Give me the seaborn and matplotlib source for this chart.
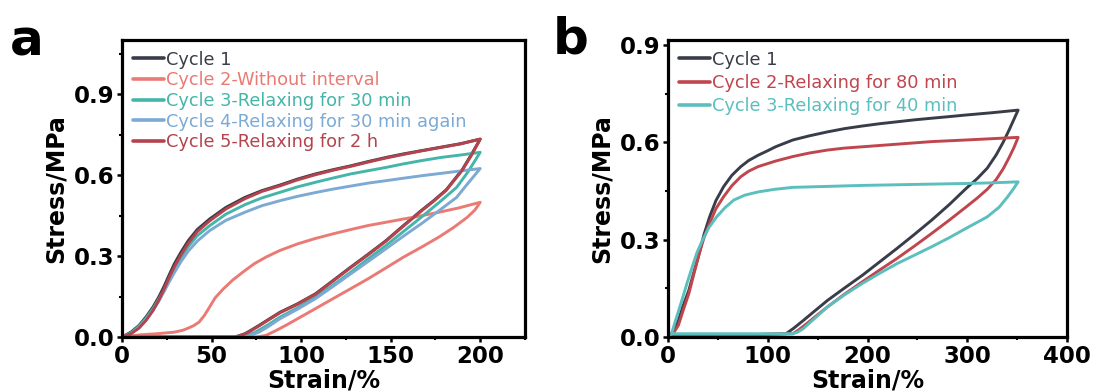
import numpy as np
import pandas as pd
import matplotlib
matplotlib.use("Agg")
import matplotlib.pyplot as plt
from matplotlib.ticker import MultipleLocator
import seaborn as sns

sns.set_theme(style="white")
plt.rcParams["font.family"] = ["DejaVu Sans"]
plt.rcParams["text.color"] = "black"
plt.rcParams["axes.labelcolor"] = "black"
plt.rcParams["xtick.color"] = "black"
plt.rcParams["ytick.color"] = "black"

# ---------------- panel a: five loading/unloading cycles to 200 % ----------------
a_labels = ["Cycle 1", "Cycle 2-Without interval", "Cycle 3-Relaxing for 30 min",
            "Cycle 4-Relaxing for 30 min again", "Cycle 5-Relaxing for 2 h"]
a_colors = ["#383d49", "#ea7a74", "#45b5aa", "#7caad5", "#b4434d"]

a1_strain = [0, 5, 9.5, 13.5, 17.3, 20.5, 23.3, 26, 29.2, 33, 37, 42, 48.9, 58, 68.6, 78, 88.3, 98,
             108, 118, 127.7, 137.5, 147.4, 157, 167, 178, 189, 200,
             195, 190, 181, 174, 167, 157, 147.4, 137.5, 127.7, 118, 108, 98, 88.3, 82, 76.5, 72,
             68.6, 65, 62.7, 30, 0]
a1_stress = [0, 0.018, 0.043, 0.075, 0.111, 0.148, 0.185, 0.225, 0.271, 0.315, 0.357, 0.398, 0.437,
             0.48, 0.517, 0.542, 0.563, 0.585, 0.604, 0.620, 0.634, 0.650, 0.665, 0.678, 0.69, 0.703,
             0.716, 0.733,
             0.675, 0.62, 0.545, 0.505, 0.468, 0.412, 0.357, 0.307, 0.259, 0.21, 0.160, 0.123, 0.092,
             0.066, 0.043, 0.025, 0.012, 0.004, 0.0, 0.0, 0.0]

a2_strain = [0, 10, 19.3, 29.2, 34, 37, 40, 43, 46, 48.9, 52, 56.7, 62, 68.6, 74, 80.4, 88, 98.1,
             108, 117.8, 127.7, 137.5, 147.4, 157.2, 167, 176.9, 188, 200,
             197, 192.7, 185, 176.9, 167, 157.2, 147.4, 137.5, 127.7, 117.8, 108, 98.1, 92, 86.3,
             80.4, 75, 40, 0]
a2_stress = [0, 0.008, 0.012, 0.018, 0.025, 0.033, 0.042, 0.055, 0.08, 0.111, 0.145, 0.179, 0.212,
             0.246, 0.272, 0.296, 0.32, 0.345, 0.365, 0.382, 0.398, 0.413, 0.425, 0.437, 0.449, 0.462,
             0.478, 0.499,
             0.47, 0.443, 0.405, 0.37, 0.332, 0.296, 0.256, 0.216, 0.179, 0.142, 0.105, 0.068, 0.045,
             0.025, 0.006, 0.0, 0.0, 0.0]

a3_strain = [0, 5, 9.5, 13.5, 17.3, 20.5, 23.3, 26, 29.2, 33, 37, 42, 48.9, 58, 68.6, 78, 88.3, 98,
             108, 118, 127.7, 137.5, 147.4, 157, 167, 178, 189, 200,
             193, 186.8, 177, 167, 157, 147.4, 137.5, 127.7, 118, 108, 98, 88.3, 81, 74.5, 68.6, 30, 0]
a3_stress = [0, 0.015, 0.04, 0.07, 0.105, 0.14, 0.172, 0.21, 0.25, 0.295, 0.335, 0.375, 0.412,
             0.455, 0.49, 0.515, 0.536, 0.556, 0.573, 0.589, 0.604, 0.616, 0.628, 0.641, 0.653, 0.665,
             0.674, 0.684,
             0.61, 0.554, 0.498, 0.443, 0.39, 0.339, 0.29, 0.24, 0.193, 0.148, 0.108, 0.074, 0.043,
             0.018, 0.002, 0.0, 0.0]

a4_strain = [0, 5, 9.5, 13.5, 17.3, 20.5, 23.3, 26, 29.2, 33, 37, 42, 48.9, 58, 68.6, 78, 88.3, 98,
             108, 118, 127.7, 137.5, 147.4, 157, 167, 178, 189, 200,
             193, 186.8, 177, 167, 157, 147.4, 137.5, 127.7, 118, 108, 98, 88.3, 82, 76.5, 70.5, 30, 0]
a4_stress = [0, 0.012, 0.035, 0.065, 0.098, 0.132, 0.166, 0.2, 0.238, 0.28, 0.318, 0.355, 0.394,
             0.432, 0.462, 0.486, 0.505, 0.521, 0.535, 0.548, 0.559, 0.57, 0.579, 0.588, 0.597, 0.606,
             0.615, 0.624,
             0.568, 0.517, 0.468, 0.419, 0.373, 0.327, 0.28, 0.234, 0.188, 0.142, 0.103, 0.068, 0.04,
             0.018, 0.002, 0.0, 0.0]

a5_strain = [0, 5, 9.5, 13.5, 17.3, 20.5, 23.3, 26, 29.2, 33, 37, 42, 48.9, 58, 68.6, 78, 88.3, 98,
             108, 118, 127.7, 137.5, 147.4, 157, 167, 178, 189, 200,
             195, 190, 181, 174, 167, 157, 147.4, 137.5, 127.7, 118, 108, 98, 88.3, 82, 76.5, 72,
             68.6, 65, 62.7, 30, 0]
a5_stress = [0, 0.012, 0.033, 0.062, 0.098, 0.136, 0.175, 0.215, 0.26, 0.305, 0.347, 0.39, 0.43,
             0.474, 0.512, 0.539, 0.56, 0.582, 0.601, 0.618, 0.632, 0.648, 0.663, 0.676, 0.689, 0.702,
             0.715, 0.733,
             0.672, 0.618, 0.543, 0.503, 0.466, 0.41, 0.355, 0.305, 0.257, 0.208, 0.158, 0.121, 0.09,
             0.064, 0.041, 0.023, 0.011, 0.003, 0.0, 0.0, 0.0]

# ---------------- panel b: three cycles to 350 % ----------------
b_labels = ["Cycle 1", "Cycle 2-Relaxing for 80 min", "Cycle 3-Relaxing for 40 min"]
b_colors = ["#383d49", "#c0464e", "#5bbfbe"]

b1_strain = [0, 5, 10.4, 15, 20.9, 26, 31.3, 36, 41.7, 48, 55.7, 64, 73, 81, 90.4, 100, 107.8,
             125.2, 142, 160, 177, 194.8, 212, 229.6, 247, 264.3, 282, 299, 325, 351,
             347, 342, 336, 329, 320, 310, 299, 282, 264.3, 247, 229.6, 212, 194.8, 177, 160, 147,
             135.7, 126, 118.3, 60, 0]
b1_stress = [0, 0.015, 0.051, 0.095, 0.144, 0.2, 0.257, 0.315, 0.37, 0.42, 0.463, 0.498, 0.525,
             0.544, 0.56, 0.574, 0.586, 0.607, 0.62, 0.632, 0.642, 0.65, 0.657, 0.663, 0.669, 0.674,
             0.679, 0.684, 0.691, 0.699,
             0.672, 0.638, 0.6, 0.561, 0.52, 0.488, 0.458, 0.408, 0.36, 0.316, 0.273, 0.231, 0.19,
             0.151, 0.113, 0.08, 0.051, 0.027, 0.01, 0.005, 0.005]

b2_strain = [0, 5, 10.4, 15, 20.9, 26, 31.3, 36, 41.7, 48, 55.7, 64, 73, 81, 90.4, 107.8, 125.2,
             142, 160, 177, 194.8, 212, 229.6, 264.3, 299, 325, 351,
             347, 342, 336, 329, 320, 310, 299, 282, 264.3, 247, 229.6, 212, 194.8, 177, 160, 149,
             139, 131, 125.2, 60, 0]
b2_stress = [0, 0.01, 0.036, 0.08, 0.134, 0.195, 0.257, 0.305, 0.35, 0.395, 0.432, 0.466, 0.494,
             0.511, 0.525, 0.542, 0.556, 0.567, 0.576, 0.582, 0.586, 0.59, 0.594, 0.602, 0.607,
             0.611, 0.615,
             0.585, 0.553, 0.518, 0.485, 0.455, 0.428, 0.401, 0.36, 0.319, 0.28, 0.242, 0.206, 0.17,
             0.132, 0.093, 0.066, 0.041, 0.022, 0.01, 0.006, 0.006]

b3_strain = [0, 3.5, 8, 13.9, 19, 24.3, 29, 34.8, 41, 48.7, 57, 66, 77, 90.4, 107, 125.2, 160,
             194.8, 229.6, 264.3, 299, 325, 351,
             346, 340, 332, 320, 299, 282, 264.3, 247, 229.6, 212, 194.8, 177, 160, 148, 135.7, 130,
             125.2, 60, 0]
b3_stress = [0, 0.01, 0.055, 0.113, 0.165, 0.216, 0.26, 0.3, 0.337, 0.37, 0.398, 0.422, 0.437,
             0.447, 0.455, 0.461, 0.464, 0.467, 0.469, 0.471, 0.473, 0.475, 0.478,
             0.455, 0.43, 0.4, 0.37, 0.335, 0.306, 0.278, 0.252, 0.226, 0.196, 0.165, 0.13, 0.093,
             0.06, 0.026, 0.015, 0.01, 0.01, 0.01]

a_series = [(a1_strain, a1_stress), (a2_strain, a2_stress), (a3_strain, a3_stress),
            (a4_strain, a4_stress), (a5_strain, a5_stress)]
b_series = [(b1_strain, b1_stress), (b2_strain, b2_stress), (b3_strain, b3_stress)]


def to_frame(series, labels):
    parts = []
    for (sx, sy), lab in zip(series, labels):
        parts.append(pd.DataFrame({"strain": sx, "stress": sy, "cycle": lab,
                                   "step": np.arange(len(sx))}))
    return pd.concat(parts, ignore_index=True)


df_a = to_frame(a_series, a_labels)
df_b = to_frame(b_series, b_labels)

fig = plt.figure(figsize=(10.93, 3.92), dpi=100)
ax_a = fig.add_axes([122 / 1093, 1 - 337 / 392, 403 / 1093, 297 / 392])
ax_b = fig.add_axes([668 / 1093, 1 - 337 / 392, 399 / 1093, 297 / 392])

tick_font = dict(fontsize=16.5, fontweight="bold")
label_font = dict(fontsize=17, fontweight="bold")


def draw(ax, df, labels, colors, xlim, ylim, xmaj, xmin, labelspacing):
    for lab, col in zip(labels, colors):
        sub = df[df["cycle"] == lab]
        sns.lineplot(data=sub, x="strain", y="stress", ax=ax, sort=False, estimator=None,
                     color=col, linewidth=2.1, label=lab)
    ax.xaxis.set_minor_locator(MultipleLocator(xmin))
    ax.yaxis.set_minor_locator(MultipleLocator(0.15))
    for sp in ax.spines.values():
        sp.set_visible(True)
        sp.set_color("black")
        sp.set_linewidth(2.3)
    ax.tick_params(axis="both", which="major", direction="out", length=3.5, width=1.8,
                   color="black", pad=2, bottom=True, left=True)
    ax.tick_params(axis="both", which="minor", direction="out", length=2.5, width=1.5,
                   color="black", bottom=True, left=True)
    yt = np.arange(0, ylim[1] + 1e-9, 0.3)
    ax.set_yticks(yt)
    ax.set_yticklabels([f"{v:.1f}" for v in yt], **tick_font)
    xt = np.arange(0, xlim[1] + 1e-9, xmaj)
    ax.set_xticks(xt)
    ax.set_xticklabels([f"{int(v)}" for v in xt], **tick_font)
    ax.set_xlim(*xlim)
    ax.set_ylim(*ylim)
    ax.set_xlabel("Strain/%", labelpad=0.5, **label_font)
    ax.set_ylabel("Stress/MPa", labelpad=4, **label_font)
    ax.grid(False)
    leg = ax.legend(loc="upper left", bbox_to_anchor=(0.0, 1.0), frameon=False,
                    handlelength=1.75, handletextpad=0.15, labelspacing=labelspacing,
                    borderaxespad=0.2, borderpad=0.4, prop=dict(size=12.8))
    for txt, col in zip(leg.get_texts(), colors):
        txt.set_color(col)
    for h in leg.get_lines():
        h.set_linewidth(2.6)


draw(ax_a, df_a, a_labels, a_colors, (0, 225), (0, 1.1), 50, 25, 0.15)
draw(ax_b, df_b, b_labels, b_colors, (0, 400), (0, 0.915), 100, 50, 0.3)

fig.text(10 / 1093, 1 - 56 / 392, "a", fontsize=36, fontweight="bold", ha="left", va="baseline")
fig.text(553 / 1093, 1 - 54 / 392, "b", fontsize=36, fontweight="bold", ha="left", va="baseline")

fig.savefig("out.png", dpi=100)
